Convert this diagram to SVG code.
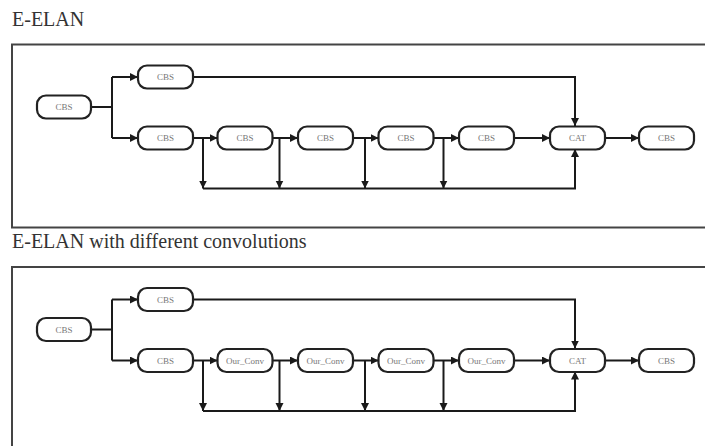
<svg xmlns="http://www.w3.org/2000/svg" width="705" height="446" viewBox="0 0 705 446">
<style>
.title{font-family:"Liberation Serif","Times New Roman",serif;font-size:20px;fill:#333}
.frame{fill:none;stroke:#444;stroke-width:2}
.node rect{fill:#fff;stroke:#222;stroke-width:2.2}
.node text{font-family:"Liberation Serif","Times New Roman",serif;font-size:9px;fill:#777;text-anchor:middle}
.conn path{fill:none;stroke:#1a1a1a;stroke-width:2}
.arr{marker-end:url(#ah)}
</style>
<defs>
<marker id="ah" markerUnits="userSpaceOnUse" markerWidth="9" markerHeight="9" refX="8" refY="4" orient="auto">
<path d="M0,0 L8,4 L0,8 z" fill="#1a1a1a"/>
</marker>
</defs>
<rect width="705" height="446" fill="#fff"/>

<text class="title" x="12" y="26">E-ELAN</text>
<rect class="frame" x="12" y="44.5" width="700" height="183"/>
<text class="title" x="12" y="248">E-ELAN with different convolutions</text>
<rect class="frame" x="12" y="267" width="700" height="200"/>

<g id="panel1">
<g class="conn" id="connectors1">
<path d="M91,107 H112 M112,77 V138"/>
<path class="arr" d="M112,77 H138"/>
<path class="arr" d="M112,138 H138"/>
<path class="arr" d="M193,77 H575 V126"/>
<path class="arr" d="M193,138 H217.5"/>
<path class="arr" d="M203,138 V188.5"/>
<path class="arr" d="M272.5,138 H298"/>
<path class="arr" d="M279.5,138 V188.5"/>
<path class="arr" d="M353,138 H378.5"/>
<path class="arr" d="M365,138 V188.5"/>
<path class="arr" d="M433.5,138 H459"/>
<path class="arr" d="M443.5,138 V188.5"/>
<path class="arr" d="M514,138 H550"/>
<path class="arr" d="M203,188.5 H575 V149"/>
<path class="arr" d="M605,138 H639"/>
</g>
<g class="node" id="p1-in"><rect x="37" y="95.5" width="54" height="23" rx="9"/><text x="64" y="110">CBS</text></g>
<g class="node" id="p1-top"><rect x="138" y="65.5" width="55" height="23" rx="9"/><text x="165.5" y="80">CBS</text></g>
<g class="node" id="p1-r1"><rect x="138" y="126.5" width="55" height="23" rx="9"/><text x="165.5" y="141">CBS</text></g>
<g class="node" id="p1-r2"><rect x="217.5" y="126.5" width="55" height="23" rx="9"/><text x="245" y="141">CBS</text></g>
<g class="node" id="p1-r3"><rect x="298" y="126.5" width="55" height="23" rx="9"/><text x="325.5" y="141">CBS</text></g>
<g class="node" id="p1-r4"><rect x="378.5" y="126.5" width="55" height="23" rx="9"/><text x="406" y="141">CBS</text></g>
<g class="node" id="p1-r5"><rect x="459" y="126.5" width="55" height="23" rx="9"/><text x="486.5" y="141">CBS</text></g>
<g class="node" id="p1-cat"><rect x="550" y="126.5" width="55" height="23" rx="9"/><text x="577.5" y="141">CAT</text></g>
<g class="node" id="p1-out"><rect x="639" y="126.5" width="55" height="23" rx="9"/><text x="666.5" y="141">CBS</text></g>
</g>

<g id="panel2" transform="translate(0,222.5)">
<g class="conn" id="connectors2">
<path d="M91,107 H112 M112,77 V138"/>
<path class="arr" d="M112,77 H138"/>
<path class="arr" d="M112,138 H138"/>
<path class="arr" d="M193,77 H575 V126"/>
<path class="arr" d="M193,138 H217.5"/>
<path class="arr" d="M203,138 V188.5"/>
<path class="arr" d="M272.5,138 H298"/>
<path class="arr" d="M279.5,138 V188.5"/>
<path class="arr" d="M353,138 H378.5"/>
<path class="arr" d="M365,138 V188.5"/>
<path class="arr" d="M433.5,138 H459"/>
<path class="arr" d="M443.5,138 V188.5"/>
<path class="arr" d="M514,138 H550"/>
<path class="arr" d="M203,188.5 H575 V149"/>
<path class="arr" d="M605,138 H639"/>
</g>
<g class="node" id="p2-in"><rect x="37" y="95.5" width="54" height="23" rx="9"/><text x="64" y="110">CBS</text></g>
<g class="node" id="p2-top"><rect x="138" y="65.5" width="55" height="23" rx="9"/><text x="165.5" y="80">CBS</text></g>
<g class="node" id="p2-r1"><rect x="138" y="126.5" width="55" height="23" rx="9"/><text x="165.5" y="141">CBS</text></g>
<g class="node" id="p2-r2"><rect x="217.5" y="126.5" width="55" height="23" rx="9"/><text x="245" y="141">Our_Conv</text></g>
<g class="node" id="p2-r3"><rect x="298" y="126.5" width="55" height="23" rx="9"/><text x="325.5" y="141">Our_Conv</text></g>
<g class="node" id="p2-r4"><rect x="378.5" y="126.5" width="55" height="23" rx="9"/><text x="406" y="141">Our_Conv</text></g>
<g class="node" id="p2-r5"><rect x="459" y="126.5" width="55" height="23" rx="9"/><text x="486.5" y="141">Our_Conv</text></g>
<g class="node" id="p2-cat"><rect x="550" y="126.5" width="55" height="23" rx="9"/><text x="577.5" y="141">CAT</text></g>
<g class="node" id="p2-out"><rect x="639" y="126.5" width="55" height="23" rx="9"/><text x="666.5" y="141">CBS</text></g>
</g>
</svg>
